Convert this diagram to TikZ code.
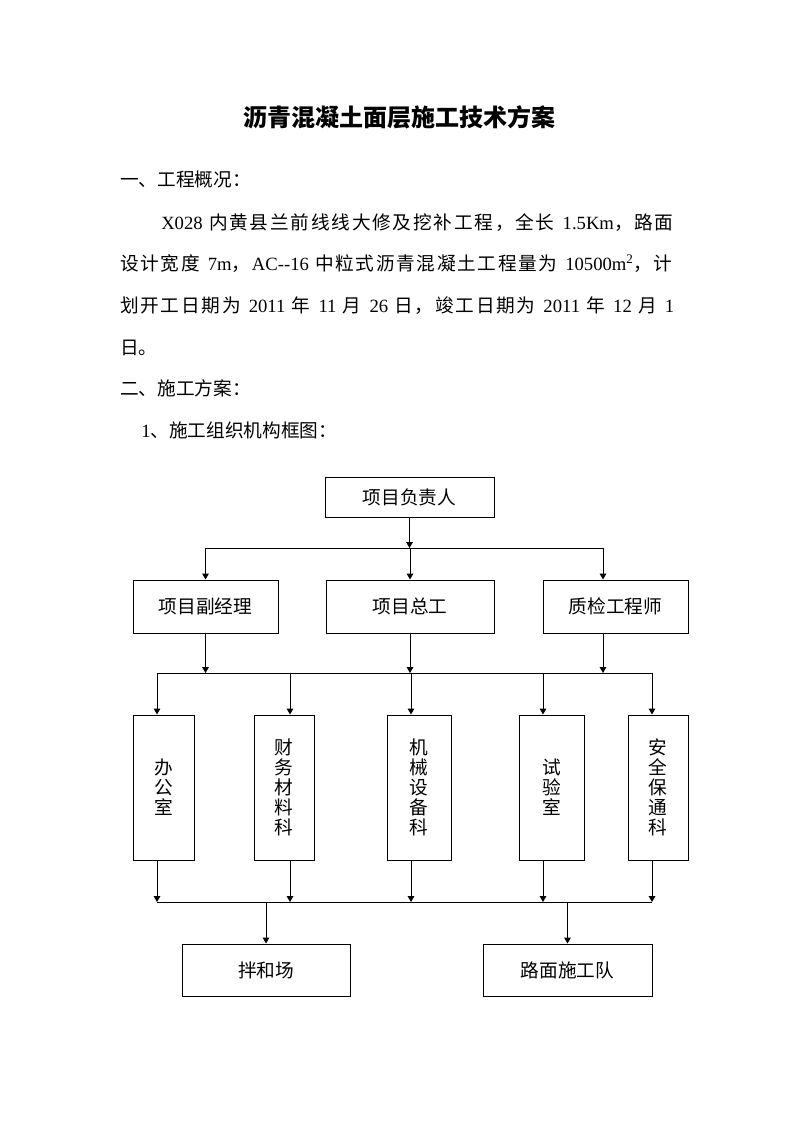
\documentclass[tikz,border=0pt]{standalone}
\usepackage{fontspec}
\setmainfont{Liberation Serif}
\newfontfamily\cjk{Noto Sans CJK SC}
% glue after each CJK character, so that justified lines stretch evenly
\def\spreadchars#1{\ifx#1\relax\else#1\hskip0pt plus 1.75pt\relax\expandafter\spreadchars\fi}
\newcommand{\zh}[1]{{\cjk\spreadchars#1\relax}}
\usetikzlibrary{arrows.meta}

\tikzset{
  box/.style={draw, line width=0.75pt, inner sep=0pt,
    font=\cjk\fontsize{14}{15}\selectfont},
  tall/.style={box, minimum height=108.75pt, align=center},
  arr/.style={line width=0.75pt, -{Triangle[width=5pt,length=4.5pt]}},
  bus/.style={line width=0.75pt},
  para/.style={anchor=base west, inner sep=0pt, font=\fontsize{14}{16}\selectfont},
}

\begin{document}
\begin{tikzpicture}[x=0.75pt, y=-0.75pt]
  \useasboundingbox (0,0) rectangle (794,1123);

  % Title and text
  \node[anchor=base, inner sep=0pt, font=\cjk\bfseries\fontsize{18}{20}\selectfont]
    (title) at (399,127) {沥青混凝土面层施工技术方案};
  \node[para] (sec1) at (120,187) {\zh{一、工程概况：}};
  \node[para] (line1) at (161,229)
    {\makebox[385.5pt][s]{X028 \zh{内黄县兰前线线大修及挖补工程，全长} 1.5Km\zh{，路面}}};
  \node[para] (line2) at (120,270)
    {\makebox[415.5pt][s]{\zh{设计宽度} 7m\zh{，}AC-{}-16 \zh{中粒式沥青混凝土工程量为} 10500m\textsuperscript{2}\zh{，计}}};
  \node[para] (line3) at (120,312)
    {\makebox[415.5pt][s]{\zh{划开工日期为} 2011 \zh{年} 11 \zh{月} 26 \zh{日，竣工日期为} 2011 \zh{年} 12 \zh{月} 1}};
  \node[para] (line4) at (120,354) {\zh{日。}};
  \node[para] (sec2) at (120,395) {\zh{二、施工方案：}};
  \node[para] (sub1) at (141,437) {1\zh{、施工组织机构框图：}};

  % Boxes
  \node[box, minimum width=126.75pt, minimum height=30pt] (head) at (409.5,497) {项目负责人};

  \node[box, minimum width=108.75pt, minimum height=39.75pt] (deputy) at (205.5,606.5) {项目副经理};
  \node[box, minimum width=126pt, minimum height=39.75pt] (chief) at (410,606.5) {项目总工};
  \node[box, minimum width=108.75pt, minimum height=39.75pt] (qc) at (615.5,606.5) {质检工程师};

  \node[tall, minimum width=45.75pt] (office) at (163.5,787.5) {办\\公\\室};
  \node[tall, minimum width=45pt] (finance) at (284,787.5) {财\\务\\材\\料\\科};
  \node[tall, minimum width=48pt] (mech) at (419,787.5) {机\\械\\设\\备\\科};
  \node[tall, minimum width=48.75pt] (lab) at (551.5,787.5) {试\\验\\室};
  \node[tall, minimum width=45pt] (safety) at (658,787.5) {安\\全\\保\\通\\科};

  \node[box, minimum width=126pt, minimum height=39pt] (mix) at (266,970) {拌和场};
  \node[box, minimum width=126.75pt, minimum height=39pt] (road) at (567.5,970) {路面施工队};

  % Bars
  \coordinate (b1l) at (205.5,548);
  \coordinate (b1r) at (603,548);
  \coordinate (b2l) at (157,673);
  \coordinate (b2r) at (652,673);
  \coordinate (b3l) at (157,902);
  \coordinate (b3r) at (652,902);
  % Taps on bar 2
  \coordinate (t1) at (157,673);
  \coordinate (t2) at (290,673);
  \coordinate (t3) at (411,673);
  \coordinate (t4) at (543,673);
  \coordinate (t5) at (652,673);

  % Head to first row
  \draw[arr] (head.south) -- (head.south |- b1l);
  \draw[bus] (b1l) -- (b1r);
  \draw[arr] (b1l) -- (deputy.north);
  \draw[arr] (chief.north |- b1l) -- (chief.north);
  \draw[arr] (b1r) -- (b1r |- qc.north);

  % First row to bar 2
  \draw[arr] (deputy.south) -- (deputy.south |- b2l);
  \draw[arr] (chief.south) -- (chief.south |- b2l);
  \draw[arr] (qc.south -| b1r) -- (b1r |- b2l);
  \draw[bus] (b2l) -- (b2r);

  % Bar 2 to departments
  \draw[arr] (t1) -- (t1 |- office.north);
  \draw[arr] (t2) -- (t2 |- finance.north);
  \draw[arr] (t3) -- (t3 |- mech.north);
  \draw[arr] (t4) -- (t4 |- lab.north);
  \draw[arr] (t5) -- (t5 |- safety.north);

  % Departments to bar 3
  \draw[arr] (office.south -| t1) -- (t1 |- b3l);
  \draw[arr] (finance.south -| t2) -- (t2 |- b3l);
  \draw[arr] (mech.south -| t3) -- (t3 |- b3l);
  \draw[arr] (lab.south -| t4) -- (t4 |- b3l);
  \draw[arr] (safety.south -| t5) -- (t5 |- b3l);
  \draw[bus] (b3l) -- (b3r);

  % Bar 3 to bottom
  \draw[arr] (mix.north |- b3l) -- (mix.north);
  \draw[arr] (road.north |- b3l) -- (road.north);
\end{tikzpicture}
\end{document}
